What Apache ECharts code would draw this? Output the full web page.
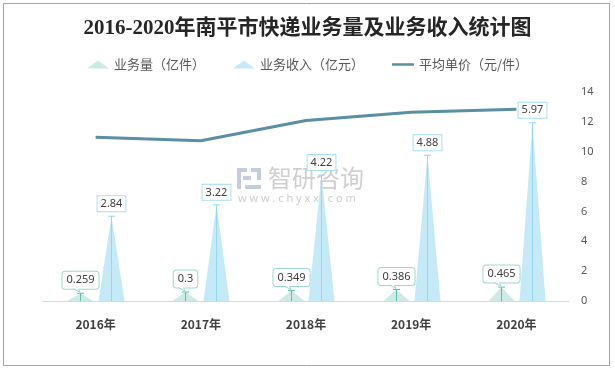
<!DOCTYPE html>
<html>
<head>
<meta charset="utf-8">
<script src="https://cdn.jsdelivr.net/npm/echarts@6/dist/echarts.min.js"></script>
<style>
html,body{margin:0;padding:0;background:#fff;}
#chart{width:615px;height:370px;}
</style>
</head>
<body>
<div id="chart"></div>
<script>
// ---- data ----
const years = ['2016年', '2017年', '2018年', '2019年', '2020年'];
const volume = [0.259, 0.3, 0.349, 0.386, 0.465];      // 业务量（亿件）
const revenue = [2.84, 3.22, 4.22, 4.88, 5.97];       // 业务收入（亿元）
const unitPrice = [10.97, 10.73, 12.09, 12.64, 12.84]; // 平均单价（元/件）
const seriesNames = ['业务量（亿件）', '业务收入（亿元）', '平均单价（元/件）'];
const titleText = '2016-2020年南平市快递业务量及业务收入统计图';
const rightAxisMax = 14, rightAxisInterval = 2;
const leftAxisMax = 7;

// ---- styling ----
const volFill = '#cdeae6', volStem = '#5cbfae', volBorder = '#9fd8cf';
const revFill = '#c4eaf8', revStem = '#94d8ef', revBorder = '#a9e0f2';
const lineColor = '#5b8fa3';

function makeRender(offsetFrac, fill, stem, border, callout) {
  return function (params, api) {
    const i = api.value(0), v = api.value(1);
    const base = api.coord([i, 0]);
    const top = api.coord([i, v]);
    const bw = api.size([1, 0])[0];
    const cx = Math.round(base[0] + offsetFrac * bw) + 0.5;
    const half = 13;
    const gap = callout ? 4.5 : 5;
    const by = top[1] - gap;
    const children = [
      {type: 'polygon', shape: {points: [[cx - half, base[1]], [cx + half, base[1]], [cx, top[1]]]},
       style: {fill: fill}},
      {type: 'line', shape: {x1: cx, y1: base[1], x2: cx, y2: top[1]}, style: {stroke: stem, lineWidth: 1}},
      {type: 'line', shape: {x1: cx - 3.5, y1: top[1], x2: cx + 3.5, y2: top[1]}, style: {stroke: stem, lineWidth: 1}},
      {type: 'text', x: cx, y: by,
       style: {text: String(v), fill: '#404040', fontSize: 11, fontFamily: '"Noto Sans", sans-serif',
               align: 'center', verticalAlign: 'bottom', backgroundColor: '#fff',
               borderColor: border, borderWidth: 1,
               padding: callout ? [3, 4, 3, 4] : [2, 3, 2, 3], borderRadius: callout ? 3 : 0}}
    ];
    if (callout) {
      children.push({type: 'polygon', shape: {points: [[cx - 7, by - 1], [cx - 0.5, top[1] - 1], [cx - 2, by - 1]]},
                     style: {fill: '#fff'}});
      children.push({type: 'polyline', shape: {points: [[cx - 7, by], [cx - 0.5, top[1] - 1], [cx - 2, by]]},
                     style: {stroke: border, lineWidth: 1, fill: null}});
    }
    return {type: 'group', children: children};
  };
}

const chart = echarts.init(document.getElementById('chart'), null, {renderer: 'canvas'});
chart.setOption({
  animation: false,
  backgroundColor: '#fff',
  title: {
    text: titleText, left: 'center', top: 13,
    textStyle: {fontSize: 21, fontWeight: 'bold', color: '#262626',
                fontFamily: '"Liberation Serif", "Noto Sans CJK SC", serif'}
  },
  legend: {
    top: 53, left: 'center', itemGap: 28, itemWidth: 22, itemHeight: 8,
    textStyle: {fontSize: 13, color: '#595959', fontFamily: '"Noto Sans CJK SC", sans-serif'},
    data: [
      {name: seriesNames[0], icon: 'triangle', itemStyle: {color: volFill}},
      {name: seriesNames[1], icon: 'triangle', itemStyle: {color: revFill}},
      {name: seriesNames[2], icon: 'path://M0,0 L26,0 L26,3 L0,3 Z', itemStyle: {color: lineColor}}
    ]
  },
  grid: {left: 43, right: 46, top: 92, bottom: 69},
  xAxis: {
    type: 'category', data: years,
    axisLine: {lineStyle: {color: '#d9d9d9', width: 1}},
    axisTick: {show: false},
    axisLabel: {fontSize: 12, fontWeight: 'bold', color: '#404040', margin: 17,
                fontFamily: '"Noto Sans CJK SC", sans-serif'}
  },
  yAxis: [
    {type: 'value', min: 0, max: leftAxisMax, show: false, splitLine: {show: false}},
    {type: 'value', min: 0, max: rightAxisMax, interval: rightAxisInterval, position: 'right',
     axisLine: {show: false}, axisTick: {show: false}, splitLine: {show: false},
     axisLabel: {fontSize: 11, color: '#595959', margin: 12, fontFamily: '"Noto Sans", sans-serif'}}
  ],
  series: [
    {name: seriesNames[0], type: 'custom', yAxisIndex: 0, itemStyle: {color: volFill},
     renderItem: makeRender(-0.147, volFill, volStem, volBorder, true),
     data: volume.map((v, i) => [i, v]), z: 3},
    {name: seriesNames[1], type: 'custom', yAxisIndex: 0, itemStyle: {color: revFill},
     renderItem: makeRender(0.147, revFill, revStem, revBorder, false),
     data: revenue.map((v, i) => [i, v]), z: 3},
    {name: seriesNames[2], type: 'line', yAxisIndex: 1, data: unitPrice, symbol: 'none', showSymbol: false,
     lineStyle: {color: lineColor, width: 3}, itemStyle: {color: lineColor}, z: 2}
  ],
  graphic: [
    {type: 'rect', shape: {x: 3.5, y: 3.5, width: 606, height: 362},
     style: {fill: null, stroke: '#a6a6a6', lineWidth: 1}, silent: true, z: -1},
    // watermark
    {type: 'group', left: 237, top: 166, silent: true, z: 0, children: [
      {type: 'rect', shape: {x: 0, y: 0, width: 10, height: 4}, style: {fill: '#c4cde0'}},
      {type: 'rect', shape: {x: 0, y: 0, width: 4, height: 21}, style: {fill: '#c4cde0'}},
      {type: 'rect', shape: {x: 6, y: 8, width: 8, height: 4}, style: {fill: '#c4cde0'}},
      {type: 'rect', shape: {x: 14, y: 0, width: 10, height: 4}, style: {fill: '#c4cde0'}},
      {type: 'rect', shape: {x: 20, y: 0, width: 4, height: 12}, style: {fill: '#c4cde0'}},
      {type: 'rect', shape: {x: 8, y: 17, width: 16, height: 4}, style: {fill: '#c4cde0'}},
      {type: 'text', x: 31, y: -2, style: {text: '智研咨询', fill: '#cfcfcf', fontSize: 24,
        fontFamily: '"Noto Sans CJK SC", sans-serif'}},
      {type: 'text', x: 1, y: 25, style: {text: 'w w w . c h y x x . c o m', fill: '#cfcfcf', fontSize: 11,
        fontFamily: '"Noto Sans", sans-serif'}}
    ]}
  ]
});
</script>
</body>
</html>
